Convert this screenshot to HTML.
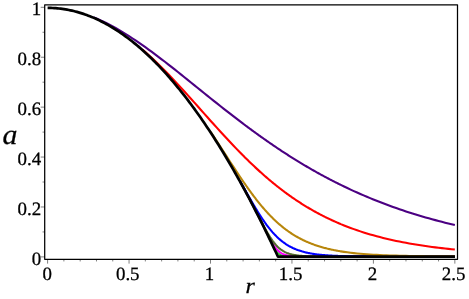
<!DOCTYPE html>
<html><head><meta charset="utf-8"><title>plot</title>
<style>
html,body{margin:0;padding:0;background:#fff;}
body{width:469px;height:299px;overflow:hidden;}
svg{display:block;font-family:"Liberation Serif",serif;will-change:transform;}
text{text-rendering:geometricPrecision;}
</style></head><body>
<svg width="469" height="299" viewBox="0 0 469 299">
<rect x="0" y="0" width="469" height="299" fill="#ffffff"/>
<g fill="none" stroke-width="2.1" stroke-linejoin="round" stroke-linecap="butt">
<path d="M239.82,180.93 L243.08,186.86 L243.89,188.35 L244.71,189.86 L245.52,191.37 L246.34,192.88 L247.15,194.40 L247.97,195.93 L248.78,197.46 L249.60,199.00 L250.41,200.55 L251.22,202.10 L252.04,203.66 L252.85,205.23 L253.67,206.80 L254.48,208.38 L255.30,209.96 L256.11,211.55 L256.93,213.14 L257.74,214.75 L258.56,216.36 L259.37,217.97 L260.18,219.59 L261.00,221.22 L261.81,222.85 L262.63,224.49 L263.44,226.14 L264.26,227.79 L265.07,229.45 L265.89,231.11 L266.70,232.78 L267.52,234.46 L268.33,236.14 L269.14,237.82 L269.96,239.51 L270.77,241.19 L271.59,242.85 L272.40,244.48 L273.22,246.06 L274.03,247.56 L274.85,248.96 L275.66,250.23 L276.47,251.36 L277.29,252.35 L278.10,253.18 L278.92,253.88 L279.73,254.45 L280.55,254.91 L281.36,255.27 L282.18,255.56 L282.99,255.79 L283.81,255.97 L284.62,256.10 L285.43,256.21 L286.25,256.29 L287.06,256.35 L287.88,256.40 L288.69,256.43 L289.51,256.46 L290.32,256.48 L291.14,256.50 L291.95,256.51 L292.76,256.52 L293.58,256.53 L294.39,256.53 L295.21,256.54 L296.02,256.54 L296.84,256.54 L297.65,256.54 L298.47,256.55 L299.28,256.55 L300.10,256.55 L300.91,256.55 L301.72,256.55 L302.54,256.55 L303.35,256.55 L304.17,256.55 L304.98,256.55 L305.80,256.55 L306.61,256.55 L307.43,256.55 L308.24,256.55 L309.05,256.55 L309.87,256.55 L310.68,256.55 L311.50,256.55 L312.31,256.55 L313.13,256.55 L313.94,256.55 L314.76,256.55 L315.57,256.55 L316.38,256.55 L317.20,256.55 L318.01,256.55 L318.83,256.55 L319.64,256.55 L320.46,256.55 L321.27,256.55 L322.09,256.55 L322.90,256.55 L323.72,256.55 L324.53,256.55 L325.34,256.55 L326.16,256.55 L326.97,256.55 L327.79,256.55 L328.60,256.55 L329.42,256.55 L330.23,256.55 L331.05,256.55 L331.86,256.55 L332.68,256.55 L333.49,256.55 L334.30,256.55 L335.12,256.55 L335.93,256.55 L336.75,256.55 L337.56,256.55 L338.38,256.55 L339.19,256.55 L340.01,256.55 L340.82,256.55 L344.08,256.55 L347.34,256.55 L350.59,256.55 L353.85,256.55 L357.11,256.55 L360.37,256.55 L363.63,256.55 L366.88,256.55 L370.14,256.55 L373.40,256.55 L376.66,256.55 L379.92,256.55 L383.17,256.55 L386.43,256.55 L389.69,256.55 L392.95,256.55 L396.21,256.55 L399.46,256.55 L402.72,256.55 L405.98,256.55 L409.24,256.55 L412.50,256.55 L415.75,256.55 L419.01,256.55 L422.27,256.55 L425.53,256.55 L428.79,256.55 L432.04,256.55 L435.30,256.55 L438.56,256.55 L441.82,256.55 L445.08,256.55 L448.33,256.55 L451.59,256.55 L454.85,256.55" stroke="#32cd32"/>
<path d="M239.82,180.93 L243.08,186.86 L243.89,188.35 L244.71,189.86 L245.52,191.37 L246.34,192.88 L247.15,194.40 L247.97,195.93 L248.78,197.46 L249.60,199.00 L250.41,200.55 L251.22,202.10 L252.04,203.66 L252.85,205.23 L253.67,206.80 L254.48,208.38 L255.30,209.96 L256.11,211.55 L256.93,213.14 L257.74,214.75 L258.56,216.36 L259.37,217.97 L260.18,219.59 L261.00,221.21 L261.81,222.85 L262.63,224.48 L263.44,226.12 L264.26,227.76 L265.07,229.39 L265.89,231.03 L266.70,232.65 L267.52,234.26 L268.33,235.85 L269.14,237.42 L269.96,238.94 L270.77,240.43 L271.59,241.86 L272.40,243.23 L273.22,244.53 L274.03,245.76 L274.85,246.91 L275.66,247.97 L276.47,248.95 L277.29,249.84 L278.10,250.65 L278.92,251.38 L279.73,252.03 L280.55,252.61 L281.36,253.12 L282.18,253.58 L282.99,253.98 L283.81,254.33 L284.62,254.63 L285.43,254.89 L286.25,255.12 L287.06,255.32 L287.88,255.50 L288.69,255.64 L289.51,255.77 L290.32,255.88 L291.14,255.98 L291.95,256.06 L292.76,256.13 L293.58,256.19 L294.39,256.24 L295.21,256.29 L296.02,256.32 L296.84,256.36 L297.65,256.38 L298.47,256.41 L299.28,256.43 L300.10,256.45 L300.91,256.46 L301.72,256.47 L302.54,256.49 L303.35,256.49 L304.17,256.50 L304.98,256.51 L305.80,256.52 L306.61,256.52 L307.43,256.52 L308.24,256.53 L309.05,256.53 L309.87,256.53 L310.68,256.54 L311.50,256.54 L312.31,256.54 L313.13,256.54 L313.94,256.54 L314.76,256.54 L315.57,256.54 L316.38,256.55 L317.20,256.55 L318.01,256.55 L318.83,256.55 L319.64,256.55 L320.46,256.55 L321.27,256.55 L322.09,256.55 L322.90,256.55 L323.72,256.55 L324.53,256.55 L325.34,256.55 L326.16,256.55 L326.97,256.55 L327.79,256.55 L328.60,256.55 L329.42,256.55 L330.23,256.55 L331.05,256.55 L331.86,256.55 L332.68,256.55 L333.49,256.55 L334.30,256.55 L335.12,256.55 L335.93,256.55 L336.75,256.55 L337.56,256.55 L338.38,256.55 L339.19,256.55 L340.01,256.55 L340.82,256.55 L344.08,256.55 L347.34,256.55 L350.59,256.55 L353.85,256.55 L357.11,256.55 L360.37,256.55 L363.63,256.55 L366.88,256.55 L370.14,256.55 L373.40,256.55 L376.66,256.55 L379.92,256.55 L383.17,256.55 L386.43,256.55 L389.69,256.55 L392.95,256.55 L396.21,256.55 L399.46,256.55 L402.72,256.55 L405.98,256.55 L409.24,256.55 L412.50,256.55 L415.75,256.55 L419.01,256.55 L422.27,256.55 L425.53,256.55 L428.79,256.55 L432.04,256.55 L435.30,256.55 L438.56,256.55 L441.82,256.55 L445.08,256.55 L448.33,256.55 L451.59,256.55 L454.85,256.55" stroke="#ff00ff"/>
<path d="M239.82,180.93 L243.08,186.86 L243.89,188.35 L244.71,189.86 L245.52,191.37 L246.34,192.88 L247.15,194.40 L247.97,195.93 L248.78,197.46 L249.60,199.00 L250.41,200.55 L251.22,202.10 L252.04,203.65 L252.85,205.22 L253.67,206.78 L254.48,208.35 L255.30,209.93 L256.11,211.50 L256.93,213.08 L257.74,214.66 L258.56,216.24 L259.37,217.82 L260.18,219.39 L261.00,220.96 L261.81,222.52 L262.63,224.07 L263.44,225.60 L264.26,227.12 L265.07,228.61 L265.89,230.08 L266.70,231.52 L267.52,232.93 L268.33,234.31 L269.14,235.65 L269.96,236.94 L270.77,238.19 L271.59,239.40 L272.40,240.55 L273.22,241.66 L274.03,242.71 L274.85,243.71 L275.66,244.66 L276.47,245.55 L277.29,246.40 L278.10,247.19 L278.92,247.93 L279.73,248.62 L280.55,249.27 L281.36,249.87 L282.18,250.42 L282.99,250.94 L283.81,251.42 L284.62,251.86 L285.43,252.26 L286.25,252.64 L287.06,252.98 L287.88,253.29 L288.69,253.58 L289.51,253.85 L290.32,254.09 L291.14,254.31 L291.95,254.51 L292.76,254.70 L293.58,254.87 L294.39,255.02 L295.21,255.16 L296.02,255.29 L296.84,255.40 L297.65,255.51 L298.47,255.60 L299.28,255.69 L300.10,255.77 L300.91,255.84 L301.72,255.91 L302.54,255.97 L303.35,256.02 L304.17,256.07 L304.98,256.12 L305.80,256.16 L306.61,256.19 L307.43,256.23 L308.24,256.26 L309.05,256.28 L309.87,256.31 L310.68,256.33 L311.50,256.35 L312.31,256.37 L313.13,256.39 L313.94,256.40 L314.76,256.42 L315.57,256.43 L316.38,256.44 L317.20,256.45 L318.01,256.46 L318.83,256.47 L319.64,256.48 L320.46,256.48 L321.27,256.49 L322.09,256.49 L322.90,256.50 L323.72,256.50 L324.53,256.51 L325.34,256.51 L326.16,256.52 L326.97,256.52 L327.79,256.52 L328.60,256.52 L329.42,256.53 L330.23,256.53 L331.05,256.53 L331.86,256.53 L332.68,256.53 L333.49,256.54 L334.30,256.54 L335.12,256.54 L335.93,256.54 L336.75,256.54 L337.56,256.54 L338.38,256.54 L339.19,256.54 L340.01,256.54 L340.82,256.54 L344.08,256.55 L347.34,256.55 L350.59,256.55 L353.85,256.55 L357.11,256.55 L360.37,256.55 L363.63,256.55 L366.88,256.55 L370.14,256.55 L373.40,256.55 L376.66,256.55 L379.92,256.55 L383.17,256.55 L386.43,256.55 L389.69,256.55 L392.95,256.55 L396.21,256.55 L399.46,256.55 L402.72,256.55 L405.98,256.55 L409.24,256.55 L412.50,256.55 L415.75,256.55 L419.01,256.55 L422.27,256.55 L425.53,256.55 L428.79,256.55 L432.04,256.55 L435.30,256.55 L438.56,256.55 L441.82,256.55 L445.08,256.55 L448.33,256.55 L451.59,256.55 L454.85,256.55" stroke="#556b2f"/>
<path d="M239.82,180.73 L243.08,186.49 L243.89,187.93 L244.71,189.37 L245.52,190.81 L246.34,192.25 L247.15,193.69 L247.97,195.12 L248.78,196.55 L249.60,197.97 L250.41,199.38 L251.22,200.79 L252.04,202.19 L252.85,203.58 L253.67,204.97 L254.48,206.34 L255.30,207.70 L256.11,209.05 L256.93,210.38 L257.74,211.70 L258.56,213.00 L259.37,214.29 L260.18,215.56 L261.00,216.81 L261.81,218.04 L262.63,219.26 L263.44,220.45 L264.26,221.62 L265.07,222.77 L265.89,223.90 L266.70,225.01 L267.52,226.09 L268.33,227.15 L269.14,228.18 L269.96,229.19 L270.77,230.18 L271.59,231.14 L272.40,232.08 L273.22,232.99 L274.03,233.87 L274.85,234.73 L275.66,235.57 L276.47,236.38 L277.29,237.17 L278.10,237.93 L278.92,238.67 L279.73,239.39 L280.55,240.08 L281.36,240.75 L282.18,241.39 L282.99,242.02 L283.81,242.62 L284.62,243.20 L285.43,243.76 L286.25,244.30 L287.06,244.82 L287.88,245.32 L288.69,245.80 L289.51,246.26 L290.32,246.71 L291.14,247.13 L291.95,247.54 L292.76,247.94 L293.58,248.32 L294.39,248.68 L295.21,249.03 L296.02,249.36 L296.84,249.68 L297.65,249.99 L298.47,250.28 L299.28,250.56 L300.10,250.83 L300.91,251.09 L301.72,251.34 L302.54,251.57 L303.35,251.80 L304.17,252.02 L304.98,252.22 L305.80,252.42 L306.61,252.61 L307.43,252.79 L308.24,252.96 L309.05,253.13 L309.87,253.29 L310.68,253.44 L311.50,253.58 L312.31,253.72 L313.13,253.85 L313.94,253.97 L314.76,254.09 L315.57,254.21 L316.38,254.32 L317.20,254.42 L318.01,254.52 L318.83,254.62 L319.64,254.71 L320.46,254.79 L321.27,254.87 L322.09,254.95 L322.90,255.03 L323.72,255.10 L324.53,255.17 L325.34,255.23 L326.16,255.29 L326.97,255.35 L327.79,255.41 L328.60,255.46 L329.42,255.51 L330.23,255.56 L331.05,255.61 L331.86,255.65 L332.68,255.70 L333.49,255.74 L334.30,255.77 L335.12,255.81 L335.93,255.85 L336.75,255.88 L337.56,255.91 L338.38,255.94 L339.19,255.97 L340.01,256.00 L340.82,256.02 L344.08,256.12 L347.34,256.19 L350.59,256.26 L353.85,256.31 L357.11,256.35 L360.37,256.39 L363.63,256.42 L366.88,256.44 L370.14,256.46 L373.40,256.47 L376.66,256.49 L379.92,256.50 L383.17,256.51 L386.43,256.52 L389.69,256.52 L392.95,256.53 L396.21,256.53 L399.46,256.53 L402.72,256.54 L405.98,256.54 L409.24,256.54 L412.50,256.54 L415.75,256.54 L419.01,256.55 L422.27,256.55 L425.53,256.55 L428.79,256.55 L432.04,256.55 L435.30,256.55 L438.56,256.55 L441.82,256.55 L445.08,256.55 L448.33,256.55 L451.59,256.55 L454.85,256.55" stroke="#0000ff"/>
<path d="M210.50,131.80 L213.76,136.69 L217.02,141.64 L220.27,146.63 L223.53,151.65 L226.79,156.68 L230.05,161.70 L233.31,166.69 L236.56,171.64 L239.82,176.52 L243.08,181.32 L243.89,182.50 L244.71,183.68 L245.52,184.85 L246.34,186.01 L247.15,187.16 L247.97,188.31 L248.78,189.45 L249.60,190.58 L250.41,191.70 L251.22,192.81 L252.04,193.91 L252.85,195.00 L253.67,196.08 L254.48,197.15 L255.30,198.21 L256.11,199.27 L256.93,200.31 L257.74,201.34 L258.56,202.35 L259.37,203.36 L260.18,204.36 L261.00,205.34 L261.81,206.31 L262.63,207.27 L263.44,208.22 L264.26,209.16 L265.07,210.09 L265.89,211.00 L266.70,211.90 L267.52,212.79 L268.33,213.66 L269.14,214.53 L269.96,215.38 L270.77,216.22 L271.59,217.05 L272.40,217.86 L273.22,218.66 L274.03,219.45 L274.85,220.23 L275.66,220.99 L276.47,221.74 L277.29,222.48 L278.10,223.21 L278.92,223.93 L279.73,224.63 L280.55,225.32 L281.36,226.00 L282.18,226.67 L282.99,227.32 L283.81,227.97 L284.62,228.60 L285.43,229.22 L286.25,229.83 L287.06,230.43 L287.88,231.01 L288.69,231.59 L289.51,232.15 L290.32,232.71 L291.14,233.25 L291.95,233.78 L292.76,234.30 L293.58,234.81 L294.39,235.31 L295.21,235.80 L296.02,236.28 L296.84,236.76 L297.65,237.22 L298.47,237.67 L299.28,238.11 L300.10,238.54 L300.91,238.97 L301.72,239.38 L302.54,239.79 L303.35,240.19 L304.17,240.57 L304.98,240.95 L305.80,241.33 L306.61,241.69 L307.43,242.05 L308.24,242.40 L309.05,242.74 L309.87,243.07 L310.68,243.39 L311.50,243.71 L312.31,244.02 L313.13,244.33 L313.94,244.62 L314.76,244.91 L315.57,245.20 L316.38,245.48 L317.20,245.75 L318.01,246.01 L318.83,246.27 L319.64,246.52 L320.46,246.77 L321.27,247.01 L322.09,247.25 L322.90,247.48 L323.72,247.70 L324.53,247.92 L325.34,248.13 L326.16,248.34 L326.97,248.55 L327.79,248.74 L328.60,248.94 L329.42,249.13 L330.23,249.31 L331.05,249.49 L331.86,249.67 L332.68,249.84 L333.49,250.01 L334.30,250.17 L335.12,250.33 L335.93,250.49 L336.75,250.64 L337.56,250.79 L338.38,250.94 L339.19,251.08 L340.01,251.22 L340.82,251.35 L344.08,251.86 L347.34,252.31 L350.59,252.73 L353.85,253.10 L357.11,253.44 L360.37,253.75 L363.63,254.02 L366.88,254.27 L370.14,254.50 L373.40,254.70 L376.66,254.88 L379.92,255.05 L383.17,255.20 L386.43,255.33 L389.69,255.45 L392.95,255.56 L396.21,255.66 L399.46,255.75 L402.72,255.83 L405.98,255.90 L409.24,255.97 L412.50,256.02 L415.75,256.08 L419.01,256.12 L422.27,256.17 L425.53,256.20 L428.79,256.24 L432.04,256.27 L435.30,256.30 L438.56,256.32 L441.82,256.35 L445.08,256.37 L448.33,256.38 L451.59,256.40 L454.85,256.42" stroke="#b8860b"/>
<path d="M142.08,49.21 L145.34,52.06 L148.60,54.99 L151.86,58.00 L155.11,61.09 L158.37,64.24 L161.63,67.47 L164.89,70.76 L168.15,74.10 L171.40,77.50 L174.66,80.96 L177.92,84.45 L181.18,87.99 L184.44,91.55 L187.69,95.15 L190.95,98.77 L194.21,102.41 L197.47,106.06 L200.73,109.72 L203.98,113.38 L207.24,117.03 L210.50,120.68 L213.76,124.31 L217.02,127.92 L220.27,131.50 L223.53,135.06 L226.79,138.58 L230.05,142.06 L233.31,145.50 L236.56,148.89 L239.82,152.24 L243.08,155.53 L243.89,156.35 L244.71,157.16 L245.52,157.96 L246.34,158.77 L247.15,159.57 L247.97,160.36 L248.78,161.16 L249.60,161.95 L250.41,162.73 L251.22,163.51 L252.04,164.29 L252.85,165.06 L253.67,165.83 L254.48,166.60 L255.30,167.36 L256.11,168.12 L256.93,168.87 L257.74,169.62 L258.56,170.37 L259.37,171.11 L260.18,171.85 L261.00,172.58 L261.81,173.31 L262.63,174.04 L263.44,174.76 L264.26,175.47 L265.07,176.19 L265.89,176.89 L266.70,177.60 L267.52,178.30 L268.33,178.99 L269.14,179.68 L269.96,180.37 L270.77,181.05 L271.59,181.73 L272.40,182.40 L273.22,183.07 L274.03,183.74 L274.85,184.40 L275.66,185.06 L276.47,185.71 L277.29,186.36 L278.10,187.00 L278.92,187.64 L279.73,188.27 L280.55,188.90 L281.36,189.53 L282.18,190.15 L282.99,190.77 L283.81,191.38 L284.62,191.99 L285.43,192.59 L286.25,193.19 L287.06,193.79 L287.88,194.38 L288.69,194.97 L289.51,195.55 L290.32,196.13 L291.14,196.70 L291.95,197.27 L292.76,197.84 L293.58,198.40 L294.39,198.95 L295.21,199.50 L296.02,200.05 L296.84,200.60 L297.65,201.14 L298.47,201.67 L299.28,202.20 L300.10,202.73 L300.91,203.25 L301.72,203.77 L302.54,204.29 L303.35,204.80 L304.17,205.30 L304.98,205.80 L305.80,206.30 L306.61,206.80 L307.43,207.28 L308.24,207.77 L309.05,208.25 L309.87,208.73 L310.68,209.20 L311.50,209.67 L312.31,210.14 L313.13,210.60 L313.94,211.06 L314.76,211.51 L315.57,211.96 L316.38,212.41 L317.20,212.85 L318.01,213.29 L318.83,213.73 L319.64,214.16 L320.46,214.58 L321.27,215.01 L322.09,215.43 L322.90,215.84 L323.72,216.26 L324.53,216.66 L325.34,217.07 L326.16,217.47 L326.97,217.87 L327.79,218.26 L328.60,218.65 L329.42,219.04 L330.23,219.42 L331.05,219.81 L331.86,220.18 L332.68,220.56 L333.49,220.93 L334.30,221.29 L335.12,221.66 L335.93,222.01 L336.75,222.37 L337.56,222.72 L338.38,223.07 L339.19,223.42 L340.01,223.76 L340.82,224.11 L344.08,225.43 L347.34,226.71 L350.59,227.95 L353.85,229.13 L357.11,230.27 L360.37,231.37 L363.63,232.42 L366.88,233.43 L370.14,234.40 L373.40,235.34 L376.66,236.23 L379.92,237.10 L383.17,237.92 L386.43,238.72 L389.69,239.48 L392.95,240.21 L396.21,240.91 L399.46,241.58 L402.72,242.22 L405.98,242.84 L409.24,243.43 L412.50,244.00 L415.75,244.54 L419.01,245.07 L422.27,245.56 L425.53,246.04 L428.79,246.50 L432.04,246.94 L435.30,247.36 L438.56,247.76 L441.82,248.15 L445.08,248.51 L448.33,248.87 L451.59,249.20 L454.85,249.53" stroke="#ff0000"/>
<path d="M93.21,17.14 L96.47,18.49 L99.73,19.93 L102.99,21.45 L106.24,23.05 L109.50,24.72 L112.76,26.46 L116.02,28.27 L119.28,30.15 L122.53,32.09 L125.79,34.09 L129.05,36.15 L132.31,38.26 L135.57,40.43 L138.82,42.65 L142.08,44.91 L145.34,47.21 L148.60,49.56 L151.86,51.94 L155.11,54.36 L158.37,56.81 L161.63,59.29 L164.89,61.79 L168.15,64.32 L171.40,66.87 L174.66,69.44 L177.92,72.02 L181.18,74.62 L184.44,77.23 L187.69,79.84 L190.95,82.46 L194.21,85.09 L197.47,87.72 L200.73,90.34 L203.98,92.97 L207.24,95.59 L210.50,98.20 L213.76,100.81 L217.02,103.40 L220.27,105.99 L223.53,108.56 L226.79,111.11 L230.05,113.66 L233.31,116.18 L236.56,118.68 L239.82,121.17 L243.08,123.64 L243.89,124.25 L244.71,124.86 L245.52,125.47 L246.34,126.08 L247.15,126.69 L247.97,127.29 L248.78,127.90 L249.60,128.50 L250.41,129.10 L251.22,129.70 L252.04,130.30 L252.85,130.90 L253.67,131.49 L254.48,132.09 L255.30,132.68 L256.11,133.27 L256.93,133.86 L257.74,134.45 L258.56,135.03 L259.37,135.62 L260.18,136.20 L261.00,136.78 L261.81,137.36 L262.63,137.94 L263.44,138.52 L264.26,139.09 L265.07,139.66 L265.89,140.23 L266.70,140.80 L267.52,141.37 L268.33,141.94 L269.14,142.50 L269.96,143.07 L270.77,143.63 L271.59,144.19 L272.40,144.74 L273.22,145.30 L274.03,145.85 L274.85,146.40 L275.66,146.96 L276.47,147.50 L277.29,148.05 L278.10,148.60 L278.92,149.14 L279.73,149.68 L280.55,150.22 L281.36,150.76 L282.18,151.29 L282.99,151.83 L283.81,152.36 L284.62,152.89 L285.43,153.42 L286.25,153.94 L287.06,154.47 L287.88,154.99 L288.69,155.51 L289.51,156.03 L290.32,156.55 L291.14,157.07 L291.95,157.58 L292.76,158.09 L293.58,158.60 L294.39,159.11 L295.21,159.61 L296.02,160.12 L296.84,160.62 L297.65,161.12 L298.47,161.62 L299.28,162.12 L300.10,162.61 L300.91,163.10 L301.72,163.59 L302.54,164.08 L303.35,164.57 L304.17,165.06 L304.98,165.54 L305.80,166.02 L306.61,166.50 L307.43,166.98 L308.24,167.45 L309.05,167.93 L309.87,168.40 L310.68,168.87 L311.50,169.34 L312.31,169.80 L313.13,170.27 L313.94,170.73 L314.76,171.19 L315.57,171.65 L316.38,172.10 L317.20,172.56 L318.01,173.01 L318.83,173.46 L319.64,173.91 L320.46,174.36 L321.27,174.80 L322.09,175.25 L322.90,175.69 L323.72,176.13 L324.53,176.56 L325.34,177.00 L326.16,177.43 L326.97,177.87 L327.79,178.30 L328.60,178.72 L329.42,179.15 L330.23,179.57 L331.05,180.00 L331.86,180.42 L332.68,180.84 L333.49,181.25 L334.30,181.67 L335.12,182.08 L335.93,182.49 L336.75,182.90 L337.56,183.31 L338.38,183.71 L339.19,184.12 L340.01,184.52 L340.82,184.92 L344.08,186.50 L347.34,188.06 L350.59,189.58 L353.85,191.08 L357.11,192.54 L360.37,193.98 L363.63,195.40 L366.88,196.78 L370.14,198.14 L373.40,199.47 L376.66,200.77 L379.92,202.05 L383.17,203.30 L386.43,204.53 L389.69,205.73 L392.95,206.91 L396.21,208.06 L399.46,209.19 L402.72,210.29 L405.98,211.38 L409.24,212.43 L412.50,213.47 L415.75,214.48 L419.01,215.48 L422.27,216.45 L425.53,217.40 L428.79,218.33 L432.04,219.24 L435.30,220.13 L438.56,221.00 L441.82,221.85 L445.08,222.68 L448.33,223.49 L451.59,224.28 L454.85,225.06" stroke="#4b0082"/>
</g>
<path d="M47.60,7.87 L49.23,7.88 L50.86,7.92 L52.49,7.98 L54.12,8.07 L55.75,8.18 L57.37,8.32 L59.00,8.48 L60.63,8.67 L62.26,8.88 L63.89,9.11 L65.52,9.38 L67.15,9.66 L68.78,9.97 L70.41,10.31 L72.03,10.67 L73.66,11.06 L75.29,11.47 L76.92,11.90 L78.55,12.36 L80.18,12.85 L81.81,13.36 L83.44,13.89 L85.07,14.45 L86.70,15.04 L88.33,15.65 L89.95,16.28 L91.58,16.94 L93.21,17.63 L94.84,18.34 L96.47,19.07 L98.10,19.83 L99.73,20.61 L101.36,21.42 L102.99,22.26 L104.62,23.12 L106.24,24.00 L107.87,24.91 L109.50,25.84 L111.13,26.80 L112.76,27.78 L114.39,28.79 L116.02,29.82 L117.65,30.88 L119.28,31.96 L120.91,33.07 L122.53,34.20 L124.16,35.36 L125.79,36.54 L127.42,37.75 L129.05,38.98 L130.68,40.24 L132.31,41.52 L133.94,42.83 L135.57,44.16 L137.20,45.52 L138.82,46.90 L140.45,48.30 L142.08,49.73 L143.71,51.19 L145.34,52.67 L146.97,54.18 L148.60,55.71 L150.23,57.26 L151.86,58.84 L153.49,60.45 L155.11,62.08 L156.74,63.74 L158.37,65.42 L160.00,67.12 L161.63,68.85 L163.26,70.61 L164.89,72.38 L166.52,74.19 L168.15,76.02 L169.78,77.87 L171.40,79.75 L173.03,81.66 L174.66,83.59 L176.29,85.54 L177.92,87.52 L179.55,89.52 L181.18,91.55 L182.81,93.60 L184.44,95.68 L186.06,97.79 L187.69,99.91 L189.32,102.07 L190.95,104.24 L192.58,106.45 L194.21,108.67 L195.84,110.93 L197.47,113.20 L199.10,115.51 L200.73,117.83 L202.36,120.19 L203.98,122.56 L205.61,124.97 L207.24,127.39 L208.87,129.84 L210.50,132.32 L212.13,134.82 L213.76,137.35 L215.39,139.90 L217.02,142.48 L218.65,145.08 L220.27,147.70 L221.90,150.35 L223.53,153.03 L225.16,155.73 L226.79,158.45 L228.42,161.20 L230.05,163.98 L231.68,166.78 L233.31,169.61 L234.94,172.46 L236.56,175.33 L238.19,178.23 L239.82,181.15 L241.45,184.10 L243.08,187.08 L244.71,190.08 L246.34,193.10 L247.97,196.15 L249.60,199.22 L251.22,202.32 L252.85,205.45 L254.48,208.60 L256.11,211.77 L257.74,214.97 L259.37,218.19 L261.00,221.44 L262.63,224.71 L264.26,228.01 L265.89,231.33 L267.52,234.68 L269.14,238.05 L270.77,241.45 L272.40,244.87 L274.03,248.32 L275.66,251.79 L277.29,255.29 L277.97,256.77 L454.85,256.77" fill="none" stroke="#000" stroke-width="2.7" stroke-linejoin="round" stroke-linecap="butt"/>
<path d="M278.27,256.77 L454.85,256.77" fill="none" stroke="#000" stroke-width="2.7" stroke-linecap="butt"/>
<rect x="44.7" y="4.8" width="412.80" height="254.45" fill="none" stroke="#000" stroke-width="1.25" stroke-linejoin="round"/>
<g stroke="#000" stroke-width="0.5">
<line x1="47.60" y1="259.25" x2="47.60" y2="263.65"/>
<line x1="63.89" y1="259.25" x2="63.89" y2="261.45"/>
<line x1="80.18" y1="259.25" x2="80.18" y2="261.45"/>
<line x1="96.47" y1="259.25" x2="96.47" y2="261.45"/>
<line x1="112.76" y1="259.25" x2="112.76" y2="261.45"/>
<line x1="129.05" y1="259.25" x2="129.05" y2="263.65"/>
<line x1="145.34" y1="259.25" x2="145.34" y2="261.45"/>
<line x1="161.63" y1="259.25" x2="161.63" y2="261.45"/>
<line x1="177.92" y1="259.25" x2="177.92" y2="261.45"/>
<line x1="194.21" y1="259.25" x2="194.21" y2="261.45"/>
<line x1="210.50" y1="259.25" x2="210.50" y2="263.65"/>
<line x1="226.79" y1="259.25" x2="226.79" y2="261.45"/>
<line x1="243.08" y1="259.25" x2="243.08" y2="261.45"/>
<line x1="259.37" y1="259.25" x2="259.37" y2="261.45"/>
<line x1="275.66" y1="259.25" x2="275.66" y2="261.45"/>
<line x1="291.95" y1="259.25" x2="291.95" y2="263.65"/>
<line x1="308.24" y1="259.25" x2="308.24" y2="261.45"/>
<line x1="324.53" y1="259.25" x2="324.53" y2="261.45"/>
<line x1="340.82" y1="259.25" x2="340.82" y2="261.45"/>
<line x1="357.11" y1="259.25" x2="357.11" y2="261.45"/>
<line x1="373.40" y1="259.25" x2="373.40" y2="263.65"/>
<line x1="389.69" y1="259.25" x2="389.69" y2="261.45"/>
<line x1="405.98" y1="259.25" x2="405.98" y2="261.45"/>
<line x1="422.27" y1="259.25" x2="422.27" y2="261.45"/>
<line x1="438.56" y1="259.25" x2="438.56" y2="261.45"/>
<line x1="454.85" y1="259.25" x2="454.85" y2="263.65"/>
<line x1="40.70" y1="256.90" x2="44.70" y2="256.90"/>
<line x1="42.50" y1="231.94" x2="44.70" y2="231.94"/>
<line x1="40.70" y1="206.98" x2="44.70" y2="206.98"/>
<line x1="42.50" y1="182.02" x2="44.70" y2="182.02"/>
<line x1="40.70" y1="157.06" x2="44.70" y2="157.06"/>
<line x1="42.50" y1="132.10" x2="44.70" y2="132.10"/>
<line x1="40.70" y1="107.14" x2="44.70" y2="107.14"/>
<line x1="42.50" y1="82.18" x2="44.70" y2="82.18"/>
<line x1="40.70" y1="57.22" x2="44.70" y2="57.22"/>
<line x1="42.50" y1="32.26" x2="44.70" y2="32.26"/>
<line x1="40.70" y1="7.30" x2="44.70" y2="7.30"/>
</g>
<g font-size="18.9px" fill="#000" stroke="#000" stroke-width="0.28">
<text x="47.30" y="279.90" text-anchor="middle">0</text>
<text x="127.75" y="279.90" text-anchor="middle">0.5</text>
<text x="209.50" y="279.90" text-anchor="middle">1</text>
<text x="290.65" y="279.90" text-anchor="middle">1.5</text>
<text x="372.40" y="279.90" text-anchor="middle">2</text>
<text x="453.55" y="279.90" text-anchor="middle">2.5</text>
<text x="41.20" y="264.60" text-anchor="end">0</text>
<text x="41.20" y="214.68" text-anchor="end">0.2</text>
<text x="41.20" y="164.76" text-anchor="end">0.4</text>
<text x="41.20" y="114.84" text-anchor="end">0.6</text>
<text x="41.20" y="64.92" text-anchor="end">0.8</text>
<text x="41.20" y="15.00" text-anchor="end">1</text>
</g>
<text transform="translate(2.4 144.2) scale(1.06 1)" font-size="28.2px" font-style="italic" fill="#000" stroke="#000" stroke-width="0.28">a</text>
<text transform="translate(245.6 292.5) scale(1.1 1)" font-size="21.8px" font-style="italic" fill="#000" stroke="#000" stroke-width="0.28">r</text>
</svg>
</body></html>
